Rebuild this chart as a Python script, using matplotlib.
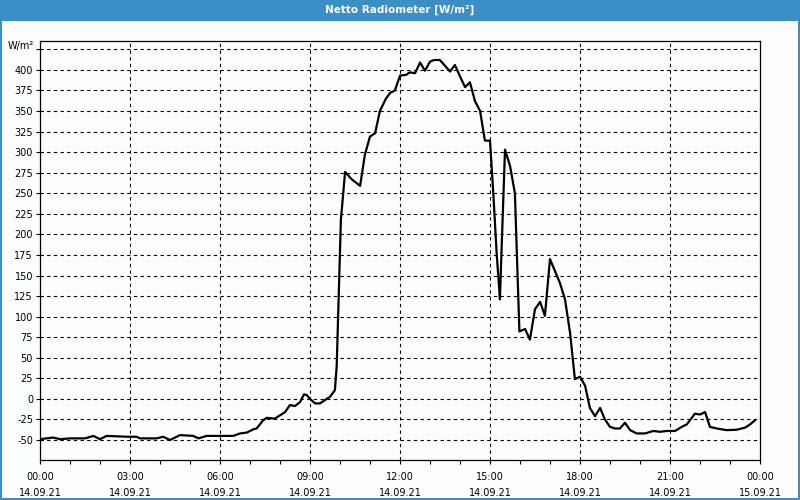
import matplotlib
matplotlib.use("Agg")
import matplotlib.pyplot as plt
from matplotlib.patches import Rectangle
from matplotlib.ticker import MultipleLocator

# hours since 14.09.21 00:00 and net radiation in W/m²
hours = [0, 0.44, 0.67, 1.0, 1.5, 1.78, 2.0, 2.22, 2.89, 3.22, 3.33, 3.89, 4.11,
         4.33, 4.67, 5.11, 5.28, 5.56, 6.44, 6.67, 6.89, 7.11, 7.22, 7.44, 7.56,
         7.83, 8.0, 8.17, 8.33, 8.5, 8.67, 8.8, 8.89, 9.0, 9.17, 9.33, 9.5, 9.67,
         9.83, 9.89, 10.03, 10.17, 10.39, 10.67, 10.83, 11.0, 11.17, 11.33, 11.53,
         11.67, 11.83, 12.0, 12.2, 12.33, 12.5, 12.67, 12.83, 13.0, 13.13, 13.33,
         13.5, 13.67, 13.83, 14.0, 14.17, 14.33, 14.5, 14.67, 14.83, 15.0, 15.11,
         15.22, 15.3, 15.33, 15.39, 15.5, 15.67, 15.83, 15.98, 16.17, 16.33, 16.5,
         16.67, 16.83, 17.0, 17.33, 17.5, 17.67, 17.83, 18.0, 18.17, 18.33, 18.5,
         18.67, 18.83, 19.0, 19.17, 19.33, 19.5, 19.67, 19.89, 20.17, 20.44, 20.67,
         20.89, 21.17, 21.39, 21.56, 21.83, 22.0, 22.17, 22.33, 22.56, 22.89,
         23.22, 23.5, 23.67, 23.83]
values = [-49, -47, -49, -48, -48, -45, -49, -45, -46, -46, -48, -48, -46,
          -50, -44, -45, -48, -45, -45, -42, -41, -37, -36, -26, -23,
          -24, -20, -16, -7.5, -8.7, -3.8, 5.5, 4.7, 0, -5.5, -5.5, -1.4, 2.6,
          10.7, 40, 218, 276, 267, 259, 297, 319, 323, 350, 365,
          372, 375, 393, 394, 397, 396, 409, 399, 410, 412, 412,
          405, 398, 406, 392, 379, 385, 362, 350, 314, 314, 250,
          178, 137, 121, 186, 303, 283, 250, 82, 85, 72, 109,
          118, 101, 170, 141, 121, 80, 24, 27, 16, -11, -21,
          -11, -25, -34, -36, -36, -29, -38, -42, -42, -39, -40,
          -39, -39, -34, -31, -18, -19, -16, -34, -36, -38,
          -37.5, -35, -31, -26]

x_labels = ["00:00\n14.09.21", "03:00\n14.09.21", "06:00\n14.09.21",
            "09:00\n14.09.21", "12:00\n14.09.21", "15:00\n14.09.21",
            "18:00\n14.09.21", "21:00\n14.09.21", "00:00\n15.09.21"]
y_ticks = list(range(-50, 426, 25))

BLUE = "#3b8fc7"
plt.rcParams["font.family"] = ["DejaVu Sans"]

fig = plt.figure(figsize=(8, 5), dpi=100, facecolor=BLUE)
# light panel inside the blue frame
fig.patches.append(Rectangle((2 / 800, 2 / 500), 796 / 800, 477 / 500,
                             transform=fig.transFigure, facecolor="#fbfefc",
                             edgecolor="none", zorder=-10))
fig.text(0.5, 1 - 10 / 500, "Netto Radiometer [W/m²]", color="white",
         fontsize=7.5, fontweight="bold", ha="center", va="center")

ax = fig.add_axes([40 / 800, 40 / 500, 720 / 800, 419.3 / 500])
ax.set_facecolor("none")
ax.plot(hours, values, color="black", linewidth=1.6, zorder=3)

ax.set_xlim(0, 24)
ax.set_ylim(-74.3, 435.5)
ax.set_xticks(range(0, 25, 3))
ax.set_xticklabels(x_labels, linespacing=1.7)
ax.xaxis.set_minor_locator(MultipleLocator(1))
ax.set_yticks(y_ticks)
ax.set_yticklabels([str(v) if v != 425 else "" for v in y_ticks])

ax.tick_params(axis="both", which="both", direction="out", length=3,
               width=0.8, labelsize=7, colors="black")
ax.tick_params(axis="x", pad=6)
ax.tick_params(axis="y", pad=2)

for s in ax.spines.values():
    s.set_linewidth(0.9)
    s.set_color("black")

for v in y_ticks:
    ax.axhline(v, color="black", linewidth=0.8, linestyle=(0, (3, 3)), zorder=1)
for h in range(3, 24, 3):
    ax.axvline(h, color="black", linewidth=0.8, linestyle=(0, (3, 3)), zorder=1)

fig.text(8 / 800, 1 - 46 / 500, "W/m²", fontsize=7, ha="left", va="center")

fig.savefig("out.png", dpi=100, facecolor=BLUE)
